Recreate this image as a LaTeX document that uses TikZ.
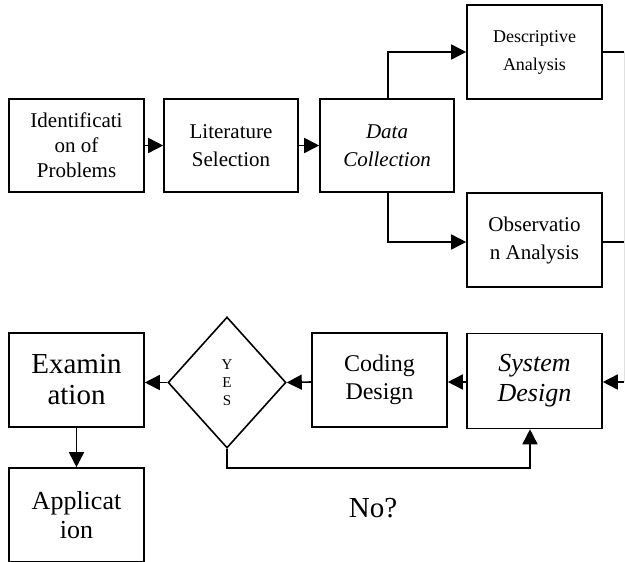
\documentclass[tikz,border=0pt]{standalone}
\usepackage{fontspec}
\setmainfont{Liberation Serif}
\usetikzlibrary{shapes.geometric,arrows.meta}
\begin{document}
\begin{tikzpicture}[x=1pt,y=-1pt,
  box/.style={draw,line width=1.6pt,rectangle,inner sep=0pt,align=center},
  arr/.style={line width=1.6pt,-{Triangle[length=15pt,width=15pt]}},
  ln/.style={line width=1.6pt}]
\useasboundingbox (0,0) rectangle (625,562);
\node[box,minimum width=135pt,minimum height=93pt,font=\fontsize{21}{25}\selectfont] (ide) at (76.5,145.5) {Identificati\\on of\\Problems};
\node[box,minimum width=134pt,minimum height=93pt,font=\fontsize{21}{28}\selectfont] (lit) at (231,145.5) {Literature\\Selection};
\node[box,minimum width=134pt,minimum height=93pt,font=\fontsize{21}{28}\selectfont\itshape] (dc) at (387,145.5) {Data\\Collection};
\node[box,minimum width=135pt,minimum height=94pt,font=\fontsize{18}{28}\selectfont] (des) at (534.5,52) {Descriptive\\Analysis};
\node[box,minimum width=135pt,minimum height=94pt,font=\fontsize{21}{28}\selectfont] (obs) at (534.5,240) {Observatio\\n Analysis};
\node[box,minimum width=135pt,minimum height=95pt,font=\fontsize{26}{30}\selectfont\itshape] (sys) at (534.5,381) {System\\Design};
\node[box,minimum width=135pt,minimum height=94pt,font=\fontsize{24}{28}\selectfont] (cod) at (379.5,380) {Coding\\Design};
\node[draw,line width=1.6pt,shape=diamond,minimum width=118pt,minimum height=131pt,inner sep=0pt,align=center,font=\fontsize{15}{18}\selectfont] (dia) at (227,382.5) {Y\\E\\S};
\node[box,minimum width=135pt,minimum height=94pt,font=\fontsize{29}{31}\selectfont] (exa) at (76.5,380) {Examin\\ation};
\node[box,minimum width=135pt,minimum height=94pt,font=\fontsize{26}{29}\selectfont] (app) at (76.5,515) {Applicat\\ion};
\node[font=\fontsize{29}{31}\selectfont] (no) at (373,508) {No?};
% top row arrows
\draw[arr] (ide) -- (lit);
\draw[arr] (lit) -- (dc);
\coordinate (up) at (388,52);
\coordinate (dn) at (388,242);
\draw[arr] (dc.north -| up) -- (up) -- (des.west |- up);
\draw[arr] (dc.south -| dn) -- (dn) -- (obs.west |- dn);
% right side return
\coordinate (rt) at (624,52);
\coordinate (rm) at (624,242);
\coordinate (rb) at (624,382);
\draw[ln] (des.east |- rt) -- (rt);
\draw[ln] (obs.east |- rm) -- (rm);
\draw[line width=0.8pt,black!12] (rt) -- (rb);
\draw[arr] (rb) -- (sys.east |- rb);
% bottom row
\draw[arr] (sys.west |- rb) -- (cod.east |- rb);
\draw[arr] (cod.west |- rb) -- (dia.east);
\draw[arr] (dia.west) -- (exa.east |- dia.west);
\draw[arr] (exa) -- (app);
\coordinate (nb) at (530,468);
\draw[arr] (dia.south) |- (nb) -- (nb |- sys.south);
\end{tikzpicture}
\end{document}
